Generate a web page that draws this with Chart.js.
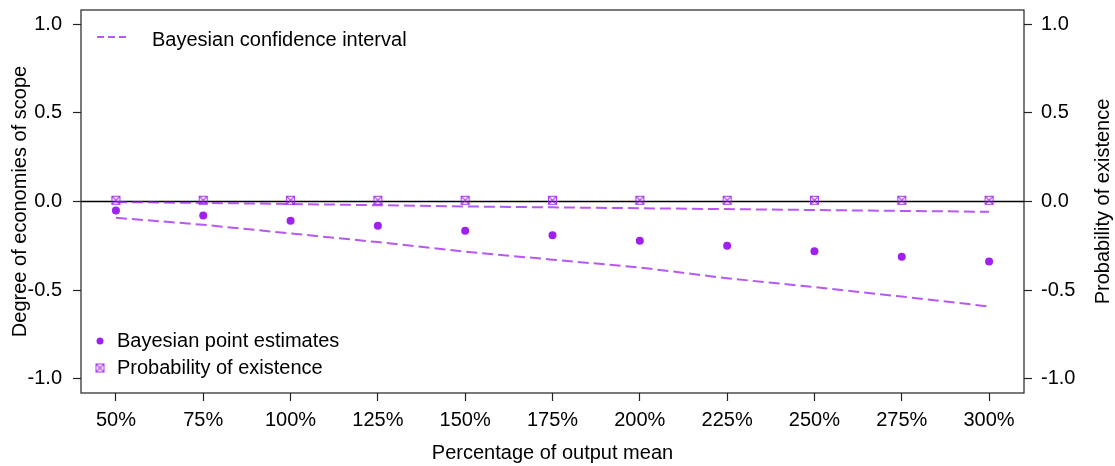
<!DOCTYPE html>
<html>
<head>
<meta charset="utf-8">
<script src="https://cdn.jsdelivr.net/npm/chart.js@4.4.1/dist/chart.umd.min.js"></script>
<style>
  html, body { margin: 0; padding: 0; background: #ffffff; }
  #wrap { width: 1115px; height: 466px; }
</style>
</head>
<body>
<div id="wrap"><canvas id="c" width="1115" height="466"></canvas></div>
<script>
// ---- data ----
const categories = ['50%', '75%', '100%', '125%', '150%', '175%', '200%', '225%', '250%', '275%', '300%'];
const pointEstimates = [-0.051, -0.079, -0.108, -0.137, -0.165, -0.191, -0.221, -0.249, -0.281, -0.311, -0.339];
const ciUpper = [-0.003, -0.008, -0.014, -0.021, -0.028, -0.033, -0.038, -0.043, -0.048, -0.053, -0.058];
const ciLower = [-0.092, -0.131, -0.180, -0.229, -0.283, -0.328, -0.372, -0.433, -0.483, -0.536, -0.592];
const probExistence = [0.007, 0.007, 0.007, 0.007, 0.007, 0.007, 0.007, 0.007, 0.007, 0.007, 0.007];
const yTicks = [-1.0, -0.5, 0.0, 0.5, 1.0];
const yTickLabels = ['-1.0', '-0.5', '0.0', '0.5', '1.0'];

const PURPLE = '#A020F0';
const LINE_PURPLE = 'rgba(160,32,240,0.75)';
const FONT = 'Liberation Sans, Arial, Helvetica, sans-serif';
const FS = 20;

function toXY(arr) { return arr.map((v, i) => ({ x: i, y: v })); }

// square-with-cross marker (R pch 7)
function makeBoxX() {
  const c = document.createElement('canvas');
  c.width = 11; c.height = 11;
  const g = c.getContext('2d');
  g.strokeStyle = 'rgba(160,32,240,0.85)'; g.lineWidth = 1.1;
  g.strokeRect(1.5, 1.5, 8, 8);
  g.beginPath();
  g.moveTo(1.5, 1.5); g.lineTo(9.5, 9.5);
  g.moveTo(9.5, 1.5); g.lineTo(1.5, 9.5);
  g.stroke();
  return c;
}
const boxX = makeBoxX();

function fixVertical(width) {
  return s => { s.width = width; s.paddingTop = 10; s.paddingBottom = 0; };
}

const framePlugin = {
  id: 'frame',
  beforeDatasetsDraw(chart) {
    const { ctx, chartArea: a, scales } = chart;
    ctx.save();
    const y0 = scales.y.getPixelForValue(0);
    ctx.strokeStyle = '#000'; ctx.lineWidth = 1.5;
    ctx.beginPath(); ctx.moveTo(a.left, y0); ctx.lineTo(a.right, y0); ctx.stroke();
    ctx.restore();
  },
  afterDraw(chart) {
    const { ctx, chartArea: a } = chart;
    ctx.save();
    ctx.strokeStyle = '#222'; ctx.lineWidth = 1.2;
    ctx.strokeRect(a.left, a.top, a.right - a.left, a.bottom - a.top);
    // right axis title (reads bottom to top)
    ctx.fillStyle = '#000';
    ctx.font = FS + 'px ' + FONT;
    ctx.textAlign = 'center'; ctx.textBaseline = 'middle';
    ctx.translate(1103, (a.top + a.bottom) / 2);
    ctx.rotate(-Math.PI / 2);
    ctx.fillText('Probability of existence', 0, 0);
    ctx.restore();

    // legends
    ctx.save();
    ctx.font = FS + 'px ' + FONT;
    ctx.fillStyle = '#000';
    ctx.textAlign = 'left'; ctx.textBaseline = 'middle';
    // top-left legend
    ctx.strokeStyle = LINE_PURPLE; ctx.lineWidth = 2;
    ctx.setLineDash([7, 4]);
    ctx.beginPath(); ctx.moveTo(97, 37); ctx.lineTo(130, 37); ctx.stroke();
    ctx.setLineDash([]);
    ctx.fillText('Bayesian confidence interval', 152, 40);
    // bottom-left legend
    ctx.fillStyle = PURPLE;
    ctx.beginPath(); ctx.arc(100, 341, 3.5, 0, Math.PI * 2); ctx.fill();
    ctx.drawImage(boxX, 94.5, 362.5);
    ctx.fillStyle = '#000';
    ctx.fillText('Bayesian point estimates', 117, 341);
    ctx.fillText('Probability of existence', 117, 368);
    ctx.restore();
  }
};

new Chart(document.getElementById('c'), {
  type: 'scatter',
  data: {
    datasets: [
      { label: 'Bayesian confidence interval (upper)', data: toXY(ciUpper), showLine: true,
        borderColor: LINE_PURPLE, borderWidth: 2, borderDash: [11, 5], pointRadius: 0, fill: false, yAxisID: 'y' },
      { label: 'Bayesian confidence interval (lower)', data: toXY(ciLower), showLine: true,
        borderColor: LINE_PURPLE, borderWidth: 2, borderDash: [11, 5], pointRadius: 0, fill: false, yAxisID: 'y' },
      { label: 'Bayesian point estimates', data: toXY(pointEstimates), showLine: false,
        pointRadius: 4, pointBackgroundColor: PURPLE, pointBorderColor: PURPLE, pointBorderWidth: 0, yAxisID: 'y' },
      { label: 'Probability of existence', data: toXY(probExistence), showLine: false,
        pointStyle: boxX, pointRadius: 5, yAxisID: 'y2' }
    ]
  },
  options: {
    responsive: false,
    animation: false,
    layout: { padding: 0 },
    plugins: { legend: { display: false }, tooltip: { enabled: false } },
    scales: {
      x: {
        type: 'linear', min: -0.4, max: 10.4,
        afterBuildTicks: s => { s.ticks = categories.map((c, i) => ({ value: i })); },
        afterFit: s => { s.height = 73; },
        ticks: { callback: v => categories[v], color: '#000', font: { family: FONT, size: FS }, padding: 7, maxRotation: 0, autoSkip: false },
        grid: { drawOnChartArea: false, drawTicks: true, tickLength: 8, tickColor: '#222', tickWidth: 1.2 },
        border: { display: false },
        title: { display: true, text: 'Percentage of output mean', color: '#000', font: { family: FONT, size: FS }, padding: { top: 0, bottom: 1 } }
      },
      y: {
        position: 'left', min: -1.08, max: 1.08,
        afterBuildTicks: s => { s.ticks = yTicks.map(v => ({ value: v })); },
        afterFit: fixVertical(81),
        ticks: { callback: (v, i) => yTickLabels[i], color: '#000', font: { family: FONT, size: FS }, padding: 11 },
        grid: { drawOnChartArea: false, drawTicks: true, tickLength: 8, tickColor: '#222', tickWidth: 1.2 },
        border: { display: false },
        title: { display: true, text: 'Degree of economies of scope', color: '#000', font: { family: FONT, size: FS }, padding: { top: 8, bottom: 0 } }
      },
      y2: {
        position: 'right', min: -1.08, max: 1.08,
        afterBuildTicks: s => { s.ticks = yTicks.map(v => ({ value: v })); },
        afterFit: fixVertical(91),
        ticks: { callback: (v, i) => yTickLabels[i], color: '#000', font: { family: FONT, size: FS }, padding: 9 },
        grid: { drawOnChartArea: false, drawTicks: true, tickLength: 8, tickColor: '#222', tickWidth: 1.2 },
        border: { display: false }
      }
    }
  },
  plugins: [framePlugin]
});
</script>
</body>
</html>
